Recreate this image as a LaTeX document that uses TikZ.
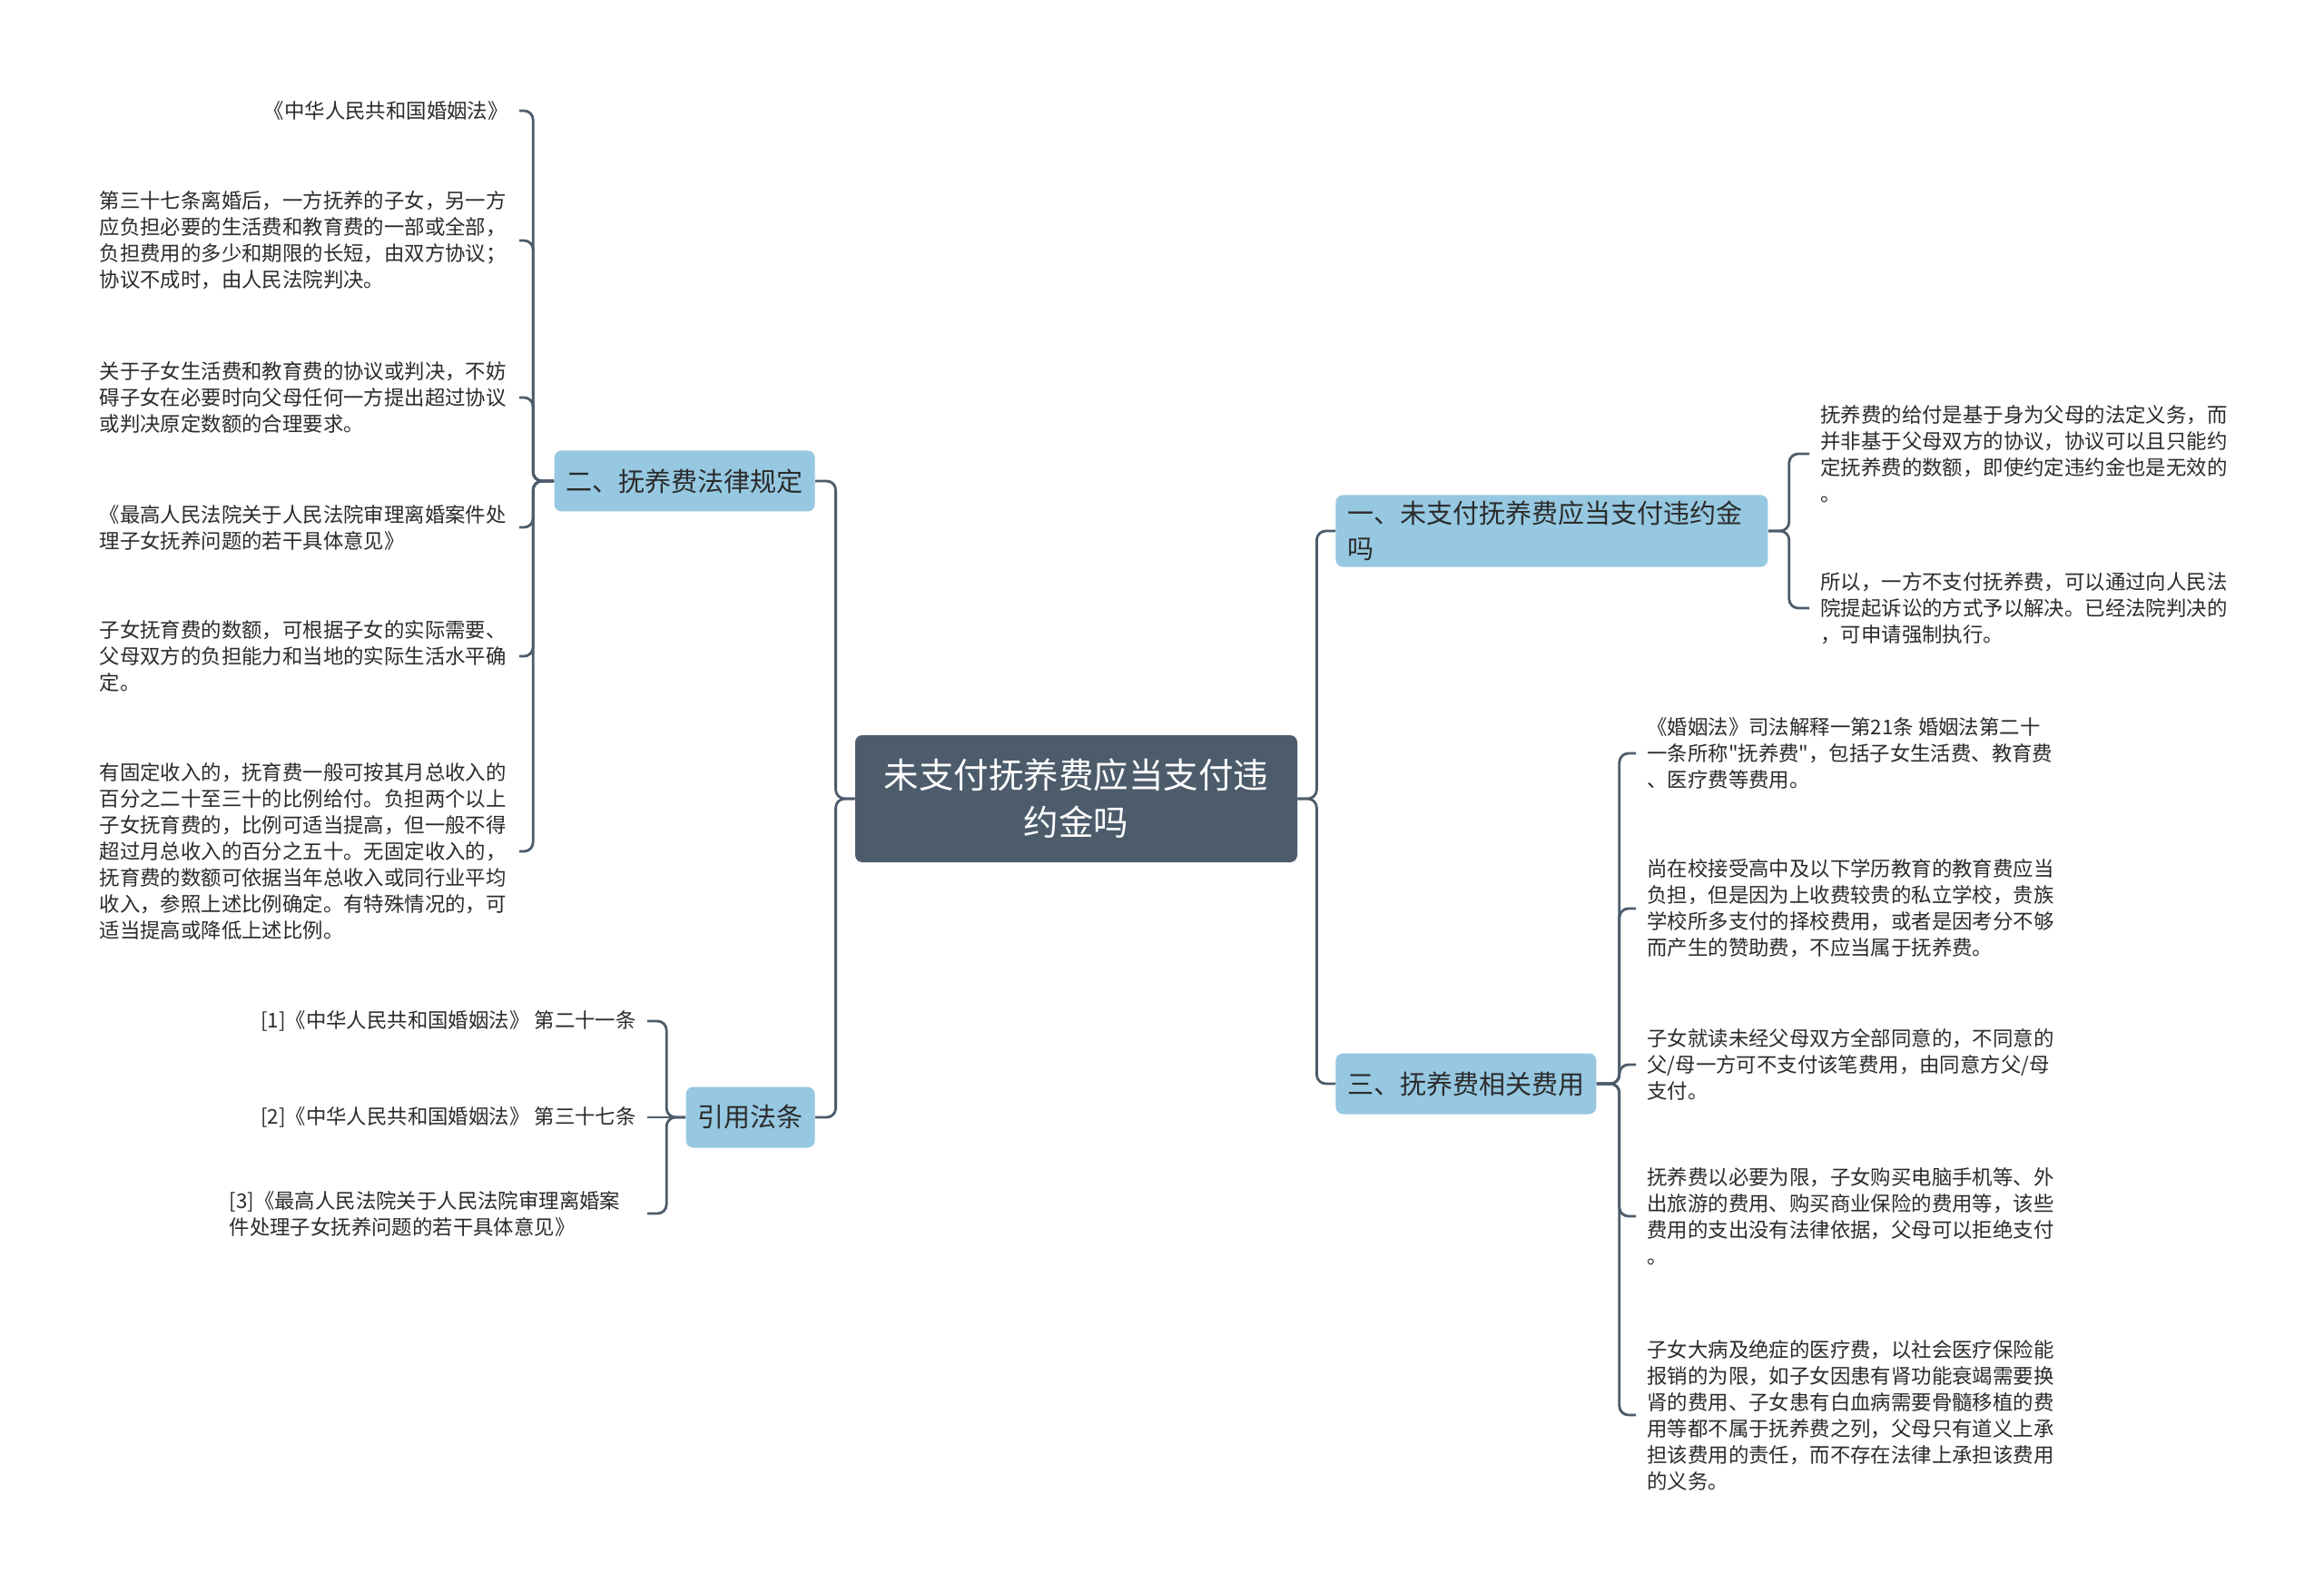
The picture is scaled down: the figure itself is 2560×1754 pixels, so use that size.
\documentclass[tikz,border=0pt]{standalone}
\usepackage{fontspec}
\setmainfont{Noto Sans CJK SC}[Ligatures=TeXOff]
\usepackage{xcolor}
\usepackage{tikz}
\definecolor{rootfill}{HTML}{4C5C6B}
\definecolor{topicfill}{HTML}{96C8E1}
\definecolor{linecol}{HTML}{4C5C6B}
\definecolor{textcol}{HTML}{2B2B2B}
\tikzstyle{root} = [ rectangle, rounded corners = 4pt, fill = rootfill, %
                     text = white, align = center, minimum width = 243.5pt, %
                     minimum height = 70pt, font = \fontsize{19.25}{26}\selectfont ]
\tikzstyle{topic} = [ rectangle, rounded corners = 4pt, fill = topicfill, %
                      text = textcol, align = left, inner xsep = 6.5pt, %
                      minimum height = 33.5pt, font = \fontsize{14.5}{19.5}\selectfont ]
\tikzstyle{leaf} = [ align = left, inner xsep = 6pt, inner ysep = 2pt, text = textcol, %
                     font = \fontsize{11.2}{14.5}\selectfont ]
\tikzstyle{link} = [draw = linecol, line width = 1.4pt, rounded corners = 5pt]

\begin{document}
\begin{tikzpicture}[x = 0.5pt, y = -0.5pt]
      \path[use as bounding box, fill = white] (0,0) rectangle (2560,1754);
      % Boxes
      \node (main) [root] at (1185.5,880) {未支付抚养费应当支付违\\约金吗};
      \node (topic1) [topic, anchor = west, text width = 225pt] at (1471,585) %
        {一、未支付抚养费应当支付违约金\\吗};
      \node (topic2) [topic, anchor = east] at (898,530) {二、抚养费法律规定};
      \node (topic3) [topic, anchor = west] at (1471,1194) {三、抚养费相关费用};
      \node (topic4) [topic, anchor = east] at (898,1231) {引用法条};
      % Leaves of topic1
      \node (pay1) [leaf, anchor = west] at (1993,500) %
        {抚养费的给付是基于身为父母的法定义务，而\\并非基于父母双方的协议，协议可以且只能约\\定抚养费的数额，即使约定违约金也是无效的\\。};
      \node (pay2) [leaf, anchor = west] at (1993,670) %
        {所以，一方不支付抚养费，可以通过向人民法\\院提起诉讼的方式予以解决。已经法院判决的\\，可申请强制执行。};
      % Leaves of topic2
      \node (law1) [leaf, anchor = east] at (572,122) {《中华人民共和国婚姻法》};
      \node (law2) [leaf, anchor = east, text width = 225pt] at (572,265) %
        {第三十七条离婚后，一方抚养的子女，另一方\\应负担必要的生活费和教育费的一部或全部，\\负担费用的多少和期限的长短，由双方协议；\\协议不成时，由人民法院判决。};
      \node (law3) [leaf, anchor = east, text width = 225pt] at (572,438) %
        {关于子女生活费和教育费的协议或判决，不妨\\碍子女在必要时向父母任何一方提出超过协议\\或判决原定数额的合理要求。};
      \node (law4) [leaf, anchor = east, text width = 225pt] at (572,581) %
        {《最高人民法院关于人民法院审理离婚案件处\\理子女抚养问题的若干具体意见》};
      \node (law5) [leaf, anchor = east, text width = 225pt] at (572,723) %
        {子女抚育费的数额，可根据子女的实际需要、\\父母双方的负担能力和当地的实际生活水平确\\定。};
      \node (law6) [leaf, anchor = east, text width = 225pt] at (572,938) %
        {有固定收入的，抚育费一般可按其月总收入的\\百分之二十至三十的比例给付。负担两个以上\\子女抚育费的，比例可适当提高，但一般不得\\超过月总收入的百分之五十。无固定收入的，\\抚育费的数额可依据当年总收入或同行业平均\\收入，参照上述比例确定。有特殊情况的，可\\适当提高或降低上述比例。};
      % Leaves of topic3
      \node (cost1) [leaf, anchor = west] at (1802,830) %
        {《婚姻法》司法解释一第21条 婚姻法第二十\\一条所称"抚养费"，包括子女生活费、教育费\\、医疗费等费用。};
      \node (cost2) [leaf, anchor = west] at (1802,1001) %
        {尚在校接受高中及以下学历教育的教育费应当\\负担，但是因为上收费较贵的私立学校，贵族\\学校所多支付的择校费用，或者是因考分不够\\而产生的赞助费，不应当属于抚养费。};
      \node (cost3) [leaf, anchor = west] at (1802,1173) %
        {子女就读未经父母双方全部同意的，不同意的\\父/母一方可不支付该笔费用，由同意方父/母\\支付。};
      \node (cost4) [leaf, anchor = west] at (1802,1340) %
        {抚养费以必要为限，子女购买电脑手机等、外\\出旅游的费用、购买商业保险的费用等，该些\\费用的支出没有法律依据，父母可以拒绝支付\\。};
      \node (cost5) [leaf, anchor = west] at (1802,1559) %
        {子女大病及绝症的医疗费，以社会医疗保险能\\报销的为限，如子女因患有肾功能衰竭需要换\\肾的费用、子女患有白血病需要骨髓移植的费\\用等都不属于抚养费之列，父母只有道义上承\\担该费用的责任，而不存在法律上承担该费用\\的义务。};
      % Leaves of topic4
      \node (ref1) [leaf, anchor = east] at (713,1125) {[1]《中华人民共和国婚姻法》 第二十一条};
      \node (ref2) [leaf, anchor = east] at (713,1231) {[2]《中华人民共和国婚姻法》 第三十七条};
      \node (ref3) [leaf, anchor = east, text width = 224pt] at (713,1337) %
        {[3]《最高人民法院关于人民法院审理离婚案\\件处理子女抚养问题的若干具体意见》};
      % Lines
      \draw [link] (main.east) -- ++(21,0) |- (topic1.west);
      \draw [link] (main.west) -- ++(-21,0) |- (topic2.east);
      \draw [link] (main.east) -- ++(21,0) |- (topic3.west);
      \draw [link] (main.west) -- ++(-21,0) |- (topic4.east);
      \draw [link] (topic1.east) -- ++(23,0) |- (pay1.west);
      \draw [link] (topic1.east) -- ++(23,0) |- (pay2.west);
      \draw [link] (topic2.west) -- ++(-23,0) |- (law1.east);
      \draw [link] (topic2.west) -- ++(-23,0) |- (law2.east);
      \draw [link] (topic2.west) -- ++(-23,0) |- (law3.east);
      \draw [link] (topic2.west) -- ++(-23,0) |- (law4.east);
      \draw [link] (topic2.west) -- ++(-23,0) |- (law5.east);
      \draw [link] (topic2.west) -- ++(-23,0) |- (law6.east);
      \draw [link] (topic3.east) -- ++(25,0) |- (cost1.west);
      \draw [link] (topic3.east) -- ++(25,0) |- (cost2.west);
      \draw [link] (topic3.east) -- ++(25,0) |- (cost3.west);
      \draw [link] (topic3.east) -- ++(25,0) |- (cost4.west);
      \draw [link] (topic3.east) -- ++(25,0) |- (cost5.west);
      \draw [link] (topic4.west) -- ++(-21,0) |- (ref1.east);
      \draw [link] (topic4.west) -- (ref2.east);
      \draw [link] (topic4.west) -- ++(-21,0) |- (ref3.east);
\end{tikzpicture}
\end{document}
